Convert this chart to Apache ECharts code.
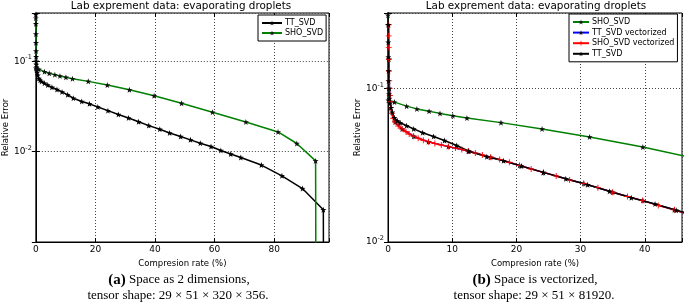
<!DOCTYPE html>
<html>
<head>
<meta charset="utf-8">
<script src="https://cdn.jsdelivr.net/npm/echarts@6/dist/echarts.min.js"></script>
<style>
  html, body { margin: 0; padding: 0; background: #fff; }
  #chart { width: 685px; height: 304px; }
</style>
</head>
<body>
<div id="chart"></div>
<script>
// 数据：压缩率 (%) 与相对误差
var ttSvd = [
  [0.0, 0.33], [0.02, 0.26], [0.04, 0.2], [0.06, 0.16], [0.08, 0.13], [0.1, 0.112],
  [0.13, 0.1], [0.17, 0.092], [0.22, 0.086], [0.3, 0.08], [0.45, 0.075], [0.66, 0.07],
  [1.0, 0.0645], [1.45, 0.0615], [1.9, 0.0598], [2.9, 0.0572], [4.0, 0.0545], [5.4, 0.0515],
  [7.1, 0.0487], [8.8, 0.0458], [10.7, 0.0425], [12.6, 0.039], [15.4, 0.0359], [18.0, 0.0338],
  [20.8, 0.0312], [24.2, 0.0284], [27.7, 0.0258], [31.1, 0.0236], [34.5, 0.0214], [37.9, 0.0194],
  [41.6, 0.0177], [44.9, 0.0161], [48.6, 0.0147], [51.9, 0.0135], [55.2, 0.0124], [58.8, 0.0114],
  [62.1, 0.0103], [65.4, 0.0094], [68.8, 0.0086], [75.7, 0.0071], [82.6, 0.0054], [89.5, 0.0039],
  [96.5, 0.00227], [96.7, 0.000001]
];
var shoSvd = [
  [0.0, 0.3], [0.05, 0.0837], [1.0, 0.0815], [2.9, 0.0767], [4.5, 0.0736], [6.4, 0.0711],
  [8.1, 0.0688], [10.1, 0.0665], [12.3, 0.0642], [17.6, 0.0599], [24.0, 0.0545], [31.4, 0.0483],
  [39.7, 0.0415], [48.9, 0.0343], [59.3, 0.0273], [70.5, 0.0213], [81.3, 0.0165], [87.6, 0.0123],
  [93.9, 0.0079], [94.2, 0.000001]
];
var shoSvdVec = [
  [0.1, 0.26], [0.11, 0.22], [0.12, 0.185], [0.14, 0.155], [0.16, 0.13], [0.19, 0.112],
  [0.23, 0.1], [0.28, 0.09], [0.35, 0.082], [0.45, 0.075], [0.6, 0.069], [0.8, 0.064],
  [1.1, 0.0605], [1.6, 0.057], [2.2, 0.0545], [2.8, 0.0522], [3.3, 0.0505], [4.0, 0.0488],
  [4.7, 0.0474], [5.5, 0.046], [6.3, 0.0449], [7.3, 0.0438], [8.3, 0.0428], [9.4, 0.0418],
  [10.5, 0.041], [11.5, 0.04], [12.5, 0.0391], [13.6, 0.038], [14.7, 0.0369], [16.0, 0.0357],
  [17.4, 0.0345], [18.9, 0.0331], [20.5, 0.0315], [22.3, 0.0299], [24.2, 0.0284], [26.2, 0.0269],
  [28.3, 0.0253], [30.5, 0.024], [32.7, 0.0226], [35.0, 0.0211], [37.3, 0.0198], [39.7, 0.0186],
  [42.1, 0.0173], [44.6, 0.0162], [47.1, 0.015]
];
var ttSvdVec = [
  [0.1, 0.26], [0.14, 0.155], [0.23, 0.1], [0.45, 0.075], [1.1, 0.0605], [2.2, 0.0545],
  [4.0, 0.0488], [6.3, 0.0449], [9.4, 0.0418], [12.5, 0.0391], [16.0, 0.0357], [20.5, 0.0315],
  [24.2, 0.0284], [30.5, 0.024], [35.0, 0.0211], [39.7, 0.0186], [44.6, 0.0162], [47.1, 0.015]
];
var xTicksA = [0, 20, 40, 60, 80];
var xTicksB = [0, 10, 20, 30, 40];
var titleText = 'Lab exprement data: evaporating droplets';
var xName = 'Compresion rate (%)';
var yName = 'Relative Error';

var FONT = 'DejaVu Sans';
var SERIF = 'Liberation Serif';
var STAR = 'path://M0,-10L2.35,-3.24L9.51,-3.09L3.8,1.24L5.88,8.09L0,4L-5.88,8.09L-3.8,1.24L-9.51,-3.09L-2.35,-3.24Z';
var PLUS = 'path://M-1.5,-10L1.5,-10L1.5,-1.5L10,-1.5L10,1.5L1.5,1.5L1.5,10L-1.5,10L-1.5,1.5L-10,1.5L-10,-1.5L-1.5,-1.5Z';

function logLabel(hide) {
  return function (v) {
    var e = Math.log10(v);
    var r = Math.round(e);
    if (Math.abs(e - r) > 1e-6 || hide.indexOf(r) >= 0) return '';
    return '{b|10}{s|' + r + '}';
  };
}
function tickLabel(ticks) {
  return function (v) {
    return ticks.indexOf(v) >= 0 ? String(v) : '';
  };
}
var logRich = {
  b: { fontSize: 9, fontFamily: FONT, color: '#000' },
  s: { fontSize: 6.5, fontFamily: FONT, color: '#000', padding: [0, 0, 7, 0] }
};
var split = { show: true, lineStyle: { type: [1, 2], color: '#444', width: 1 } };

function xAxis(grid, max, interval, ticks) {
  return [{
    type: 'value', gridIndex: grid, min: 0, max: max, interval: interval,
    name: xName, nameLocation: 'middle', nameGap: 13,
    nameTextStyle: { fontSize: 8.5, fontFamily: FONT, color: '#000' },
    axisLine: { lineStyle: { color: '#000' } },
    axisTick: { inside: true, length: 4, lineStyle: { color: '#000' } },
    axisLabel: { fontSize: 9, fontFamily: FONT, color: '#000', margin: 3, formatter: tickLabel(ticks) },
    splitLine: split
  }, {
    type: 'value', gridIndex: grid, position: 'top', min: 0, max: max, interval: interval,
    axisLine: { show: false },
    axisTick: { inside: true, length: 4, lineStyle: { color: '#000' } },
    axisLabel: { show: false }, splitLine: { show: false }
  }];
}
function yAxis(grid, min, max, hide) {
  return [{
    type: 'log', gridIndex: grid, min: min, max: max, logBase: 10,
    name: yName, nameLocation: 'middle', nameGap: 24,
    nameTextStyle: { fontSize: 8.5, fontFamily: FONT, color: '#000' },
    axisLine: { lineStyle: { color: '#000' } },
    axisTick: { inside: true, length: 4, lineStyle: { color: '#000' } },
    axisLabel: { margin: 4, formatter: logLabel(hide), rich: logRich },
    splitLine: split
  }, {
    type: 'log', gridIndex: grid, position: 'right', min: min, max: max, logBase: 10,
    axisLine: { show: false },
    axisTick: { inside: true, length: 4, lineStyle: { color: '#000' } },
    axisLabel: { show: false }, splitLine: { show: false }
  }];
}
function line(name, data, xi, yi, color, symbol, markColor) {
  return {
    name: name, type: 'line', data: data, xAxisIndex: xi, yAxisIndex: yi,
    symbol: symbol, symbolSize: 6, showSymbol: true, animation: false,
    lineStyle: { color: color, width: 1.5 },
    itemStyle: { color: markColor, borderColor: markColor, borderWidth: 0 },
    clip: true
  };
}

var myChart = echarts.init(document.getElementById('chart'));
myChart.setOption({
  animation: false,
  grid: [
    { left: 33, top: 13, width: 296, height: 229, show: true, borderColor: '#000', borderWidth: 1 },
    { left: 388, top: 13, width: 296, height: 229, show: true, borderColor: '#000', borderWidth: 1 }
  ],
  xAxis: xAxis(0, 98.4, 20, xTicksA).concat(xAxis(1, 45.8, 10, xTicksB)),
  yAxis: yAxis(0, 0.001, 0.342, [-3]).concat(yAxis(1, 0.01, 0.31, [])),
  legend: [{
    data: ['TT_SVD', 'SHO_SVD'], orient: 'vertical', left: 258, top: 15,
    backgroundColor: '#fff', borderColor: '#000', borderWidth: 1, borderRadius: 0,
    padding: [4, 3, 4, 3], itemGap: 2, itemWidth: 20, itemHeight: 6,
    textStyle: { fontSize: 8, fontFamily: FONT, color: '#000', padding: [0, 0, 0, -2] }
  }, {
    data: ['SHO_SVD', 'TT_SVD vectorized', 'SHO_SVD vectorized', 'TT_SVD'], orient: 'vertical', left: 569, top: 14,
    backgroundColor: '#fff', borderColor: '#000', borderWidth: 1, borderRadius: 0,
    padding: [4, 3, 4, 3], itemGap: 2.6, itemWidth: 16, itemHeight: 6,
    textStyle: { fontSize: 8, fontFamily: FONT, color: '#000', padding: [0, 0, 0, -2] }
  }],
  graphic: [
    { type: 'text', x: 181, y: 6, style: { text: titleText, fontSize: 10.4, fontFamily: FONT, fill: '#000', align: 'center', verticalAlign: 'middle' } },
    { type: 'text', x: 536, y: 6, style: { text: titleText, fontSize: 10.4, fontFamily: FONT, fill: '#000', align: 'center', verticalAlign: 'middle' } },
    { type: 'text', x: 179, y: 280, style: { text: '{b|(a)} Space as 2 dimensions,', fontSize: 13, fontFamily: SERIF, fill: '#000', align: 'center', verticalAlign: 'middle', rich: { b: { fontSize: 15, fontWeight: 'bold', fontFamily: SERIF } } } },
    { type: 'text', x: 178, y: 296, style: { text: 'tensor shape: 29 × 51 × 320 × 356.', fontSize: 13, fontFamily: SERIF, fill: '#000', align: 'center', verticalAlign: 'middle' } },
    { type: 'text', x: 535, y: 280, style: { text: '{b|(b)} Space is vectorized,', fontSize: 13, fontFamily: SERIF, fill: '#000', align: 'center', verticalAlign: 'middle', rich: { b: { fontSize: 15, fontWeight: 'bold', fontFamily: SERIF } } } },
    { type: 'text', x: 534, y: 296, style: { text: 'tensor shape: 29 × 51 × 81920.', fontSize: 13, fontFamily: SERIF, fill: '#000', align: 'center', verticalAlign: 'middle' } }
  ],
  series: [
    line('TT_SVD', ttSvd, 0, 0, '#000', STAR, '#000'),
    line('SHO_SVD', shoSvd, 0, 0, '#008000', STAR, '#111'),
    line('SHO_SVD', shoSvd, 2, 2, '#008000', STAR, '#111'),
    line('TT_SVD vectorized', ttSvdVec, 2, 2, '#0000ff', STAR, '#111'),
    line('SHO_SVD vectorized', shoSvdVec, 2, 2, '#ff0000', PLUS, '#ff0000'),
    line('TT_SVD', ttSvd, 2, 2, '#000', STAR, '#000')
  ]
});
</script>
</body>
</html>
